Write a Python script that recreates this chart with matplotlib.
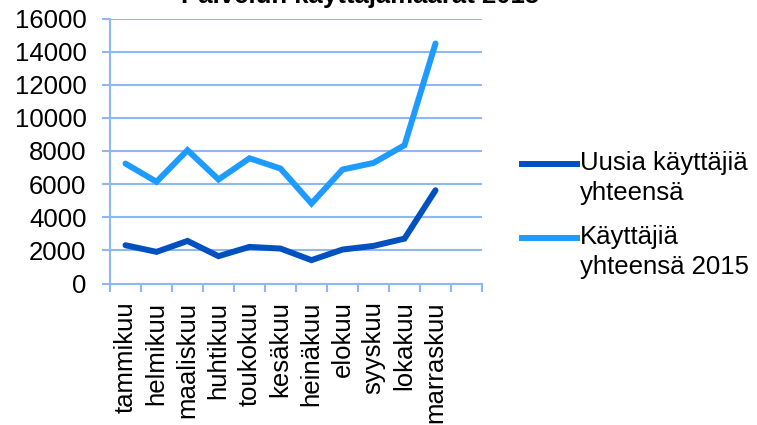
import numpy as np
import matplotlib
matplotlib.use("Agg")
import matplotlib.pyplot as plt
from matplotlib.lines import Line2D

plt.rcParams['font.family'] = ['Liberation Sans', 'DejaVu Sans']

# Data
months = ["tammikuu", "helmikuu", "maaliskuu", "huhtikuu", "toukokuu", "kesäkuu",
          "heinäkuu", "elokuu", "syyskuu", "lokakuu", "marraskuu", ""]
new_users = [2310, 1910, 2570, 1650, 2210, 2110, 1410, 2050, 2270, 2710, 5630]
users_2015 = [7240, 6140, 8050, 6280, 7560, 6940, 4830, 6880, 7280, 8350, 14490]
labels = ["Uusia käyttäjiä\nyhteensä", "Käyttäjiä\nyhteensä 2015"]
yticks = np.arange(0, 16001, 2000)

dark = "#0050C0"
light = "#1E9BFF"
grid = "#8EB8F5"
fs = 18.5

fig = plt.figure(figsize=(7.57, 4.25), dpi=100)
ax = fig.add_axes([110/757, 1 - 283.5/425, 372/757, 265/425])

x = np.arange(len(new_users))
ax.plot(x, new_users, color=dark, lw=4.3, solid_capstyle='round', solid_joinstyle='miter')
ax.plot(x, users_2015, color=light, lw=4.3, solid_capstyle='round', solid_joinstyle='miter')

ax.set_xlim(-0.5, len(months) - 0.5)
ax.set_ylim(0, 16000)
ax.set_yticks(yticks)
ax.set_yticklabels([str(v) for v in yticks], fontsize=fs)
ax.set_xticks(np.arange(len(months)))
ax.set_xticklabels(months, rotation=90, fontsize=fs)
ax.set_xticks(np.arange(len(months) + 1) - 0.5, minor=True)

ax.tick_params(axis='x', which='major', length=0, pad=13)
ax.tick_params(axis='x', which='minor', length=6, width=1.5, color=grid)
ax.tick_params(axis='y', length=6, width=1.5, color=grid, pad=11)

ax.grid(axis='y', color=grid, lw=1.5)
ax.set_axisbelow(True)
for s in ['top', 'right']:
    ax.spines[s].set_visible(False)
for s in ['left', 'bottom']:
    ax.spines[s].set_color(grid)
    ax.spines[s].set_linewidth(1.5)

# legend drawn by hand so the line sits on the first text line
for lab, col, ytop in zip(labels, [dark, light], [164, 238]):
    yy = 1 - ytop/425
    fig.add_artist(Line2D([522/757, 577/757], [yy, yy], color=col, lw=4.3,
                          transform=fig.transFigure))
    fig.text(580/757, yy + 13/425, lab, fontsize=fs, va='top', ha='left',
             linespacing=1.3)

# title mostly cut off at the top edge, as in the source image
fig.text(0.476, 1 - 2.5/425, "Palvelun käyttäjämäärät 2015", fontsize=fs,
         fontweight='bold', ha='center', va='baseline')

fig.savefig("out.png", dpi=100)
